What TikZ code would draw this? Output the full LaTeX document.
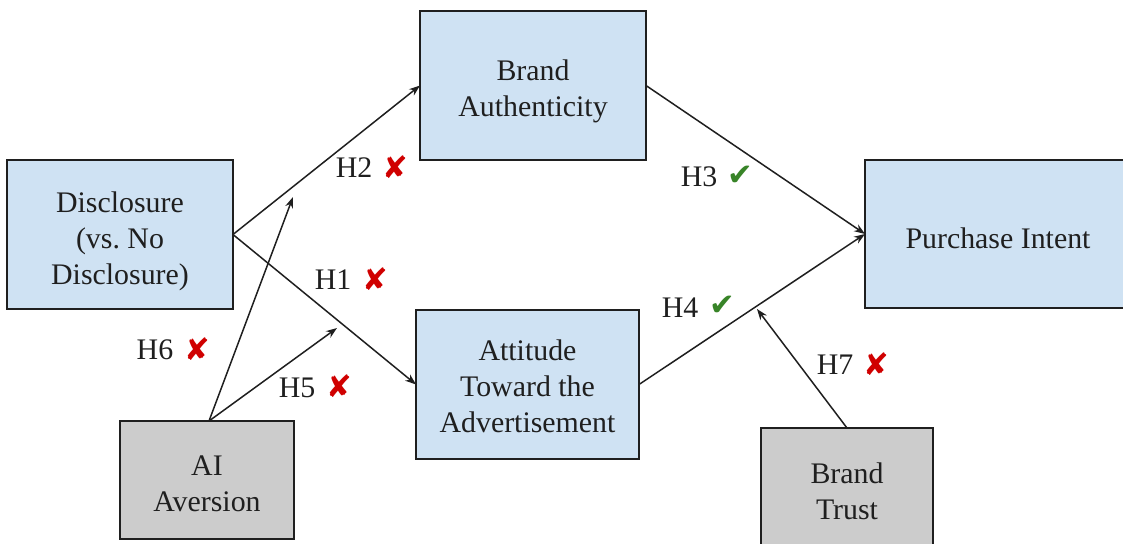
\documentclass[tikz,border=0pt]{standalone}
\usepackage{fontspec}
\setmainfont{Liberation Serif}
\newfontfamily\symfont{DejaVu Sans}
\usetikzlibrary{arrows.meta}
\definecolor{boxblue}{HTML}{CFE2F3}
\definecolor{boxgray}{HTML}{CCCCCC}
\definecolor{inkdark}{HTML}{1F1F1F}
\definecolor{markred}{HTML}{D00000}
\definecolor{markgreen}{RGB}{56,132,40}
\newcommand{\nomark}{{\symfont\color{markred}✘}}
\newcommand{\yesmark}{{\symfont\color{markgreen}✔}}
\tikzset{
  construct/.style={draw=inkdark, line width=0.032cm, fill=boxblue,
    inner sep=0pt, outer sep=0pt},
  moderator/.style={construct, fill=boxgray},
  boxtext/.style={align=center, inner sep=0pt, text=inkdark,
    font=\fontsize{17}{20.5}\selectfont},
  path/.style={draw=inkdark, line width=0.03cm, -{Stealth[length=0.22cm, width=0.16cm]}},
  hyp/.style={inner sep=0pt, text=inkdark, font=\fontsize{17}{20.5}\selectfont},
  verdict/.style={inner sep=0pt, font=\fontsize{17.5}{20}\selectfont}
}
\begin{document}
\begin{tikzpicture}[x=0.02cm, y=-0.02cm]
\clip (0,0) rectangle (1123,544);
\fill[white] (0,0) rectangle (1123,544);

% construct boxes
\node[construct, minimum width=4.52cm, minimum height=2.98cm] (dis) at (120,234.5) {};
\node[construct, minimum width=4.52cm, minimum height=2.98cm] (ba) at (533,85.5) {};
\node[construct, minimum width=4.46cm, minimum height=2.98cm] (att) at (527.5,384.5) {};
\node[construct, minimum width=5.18cm, minimum height=2.96cm] (pi) at (994.5,234) {};
\node[moderator, minimum width=3.48cm, minimum height=2.36cm] (ai) at (207,480) {};
\node[moderator, minimum width=3.44cm, minimum height=2.48cm] (bt) at (847,490) {};

% construct names
\node[boxtext] (dis-t) at (120,241.5) {Disclosure\\(vs.\ No\\Disclosure)};
\node[boxtext] (ba-t) at (533,91) {Brand\\Authenticity};
\node[boxtext] (att-t) at (527.5,386.5) {Attitude\\Toward the\\Advertisement};
\node[boxtext] (pi-t) at (998,238) {Purchase Intent};
\node[boxtext] (ai-t) at (207,483.5) {AI\\Aversion};
\node[boxtext] (bt-t) at (847,491.5) {Brand\\Trust};

% ends of the moderating paths
\coordinate (m6) at (293,197);
\coordinate (m5) at (337,328);
\coordinate (m7) at (757,309);

% direct paths
\draw[path] (dis.east) -- (ba.west);
\draw[path] (dis.east) -- (att.west);
\draw[path] (ba.east) -- (pi.west);
\draw[path] (att.east) -- (pi.west);

% moderating paths
\draw[path] ([xshift=0.04cm]ai.north) -- (m6);
\draw[path] ([xshift=0.04cm]ai.north) -- (m5);
\draw[path] (bt.north) -- (m7);

% hypothesis labels
\node[hyp] (h2) at (354,168) {H2};
\node[verdict] (h2v) at (395,167) {\nomark};
\node[hyp] (h1) at (333,280) {H1};
\node[verdict] (h1v) at (375,279) {\nomark};
\node[hyp] (h6) at (155,350) {H6};
\node[verdict] (h6v) at (197,349) {\nomark};
\node[hyp] (h5) at (297,388) {H5};
\node[verdict] (h5v) at (339,386) {\nomark};
\node[hyp] (h3) at (699,177) {H3};
\node[verdict] (h3v) at (740,176) {\yesmark};
\node[hyp] (h4) at (680,308) {H4};
\node[verdict] (h4v) at (722,306) {\yesmark};
\node[hyp] (h7) at (835,365) {H7};
\node[verdict] (h7v) at (876,364) {\nomark};
\end{tikzpicture}
\end{document}
